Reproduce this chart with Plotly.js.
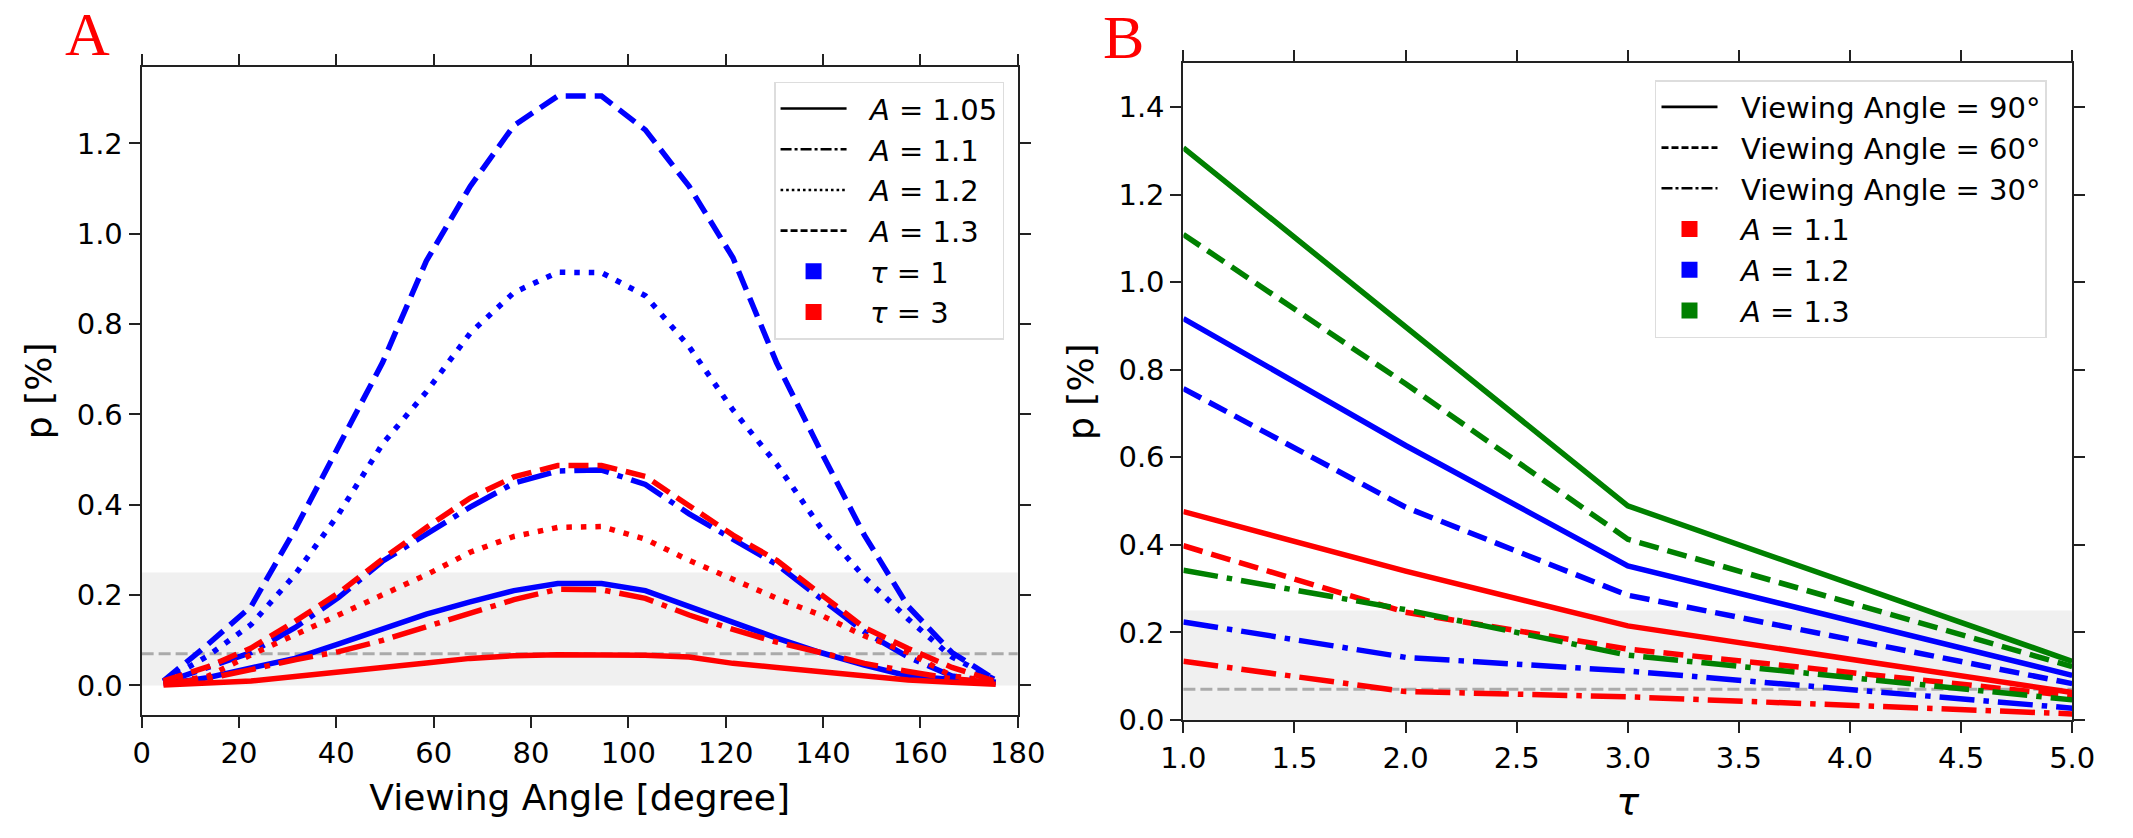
<!DOCTYPE html>
<html>
<head>
<meta charset="utf-8">
<script src="https://cdn.plot.ly/plotly-3.0.1.min.js"></script>
<style>
  html, body { margin: 0; padding: 0; background: #fff; }
  #fig { width: 2133px; height: 838px; }
</style>
</head>
<body>
<div id="fig"></div>
<script>
// panel A: p [%] against viewing angle
var angle = [4.5, 13.5, 22.5, 31.5, 40.5, 49.5, 58.5, 67.5, 76.5, 85.5,
             94.5, 103.5, 112.5, 121.5, 130.5, 139.5, 148.5, 157.5, 166.5, 175.5];

var tau1_a105 = [0.003, 0.017, 0.039, 0.060, 0.092, 0.125, 0.158, 0.185, 0.210, 0.226,
                 0.226, 0.210, 0.175, 0.138, 0.105, 0.073, 0.045, 0.021, 0.012, 0.006];
var tau1_a11  = [0.006, 0.040, 0.073, 0.128, 0.195, 0.275, 0.335, 0.395, 0.448, 0.475,
                 0.477, 0.445, 0.380, 0.324, 0.268, 0.193, 0.119, 0.063, 0.021, 0.007];
var tau1_a12  = [0.008, 0.065, 0.135, 0.245, 0.380, 0.535, 0.650, 0.780, 0.870, 0.915,
                 0.914, 0.863, 0.750, 0.610, 0.490, 0.350, 0.240, 0.147, 0.063, 0.012];
var tau1_a13  = [0.010, 0.090, 0.175, 0.345, 0.530, 0.715, 0.940, 1.105, 1.240, 1.305,
                 1.305, 1.230, 1.105, 0.947, 0.714, 0.520, 0.333, 0.175, 0.073, 0.012];

var tau3_a105 = [0.001, 0.004, 0.010, 0.020, 0.031, 0.040, 0.050, 0.060, 0.066, 0.068,
                 0.068, 0.067, 0.063, 0.049, 0.040, 0.031, 0.021, 0.012, 0.007, 0.003];
var tau3_a11  = [0.004, 0.015, 0.035, 0.057, 0.075, 0.100, 0.130, 0.160, 0.190, 0.213,
                 0.212, 0.193, 0.156, 0.124, 0.096, 0.073, 0.049, 0.031, 0.015, 0.006];
var tau3_a12  = [0.005, 0.020, 0.068, 0.113, 0.158, 0.200, 0.245, 0.295, 0.330, 0.350,
                 0.352, 0.324, 0.277, 0.235, 0.193, 0.156, 0.110, 0.073, 0.021, 0.009];
var tau3_a13  = [0.010, 0.041, 0.083, 0.142, 0.205, 0.280, 0.350, 0.415, 0.462, 0.487,
                 0.487, 0.463, 0.398, 0.333, 0.277, 0.203, 0.128, 0.082, 0.040, 0.009];

// panel B: p [%] against tau
var tau = [1, 2, 3, 5];
var a11_90 = [0.476, 0.340, 0.215, 0.063];
var a11_60 = [0.398, 0.246, 0.162, 0.055];
var a11_30 = [0.134, 0.065, 0.053, 0.014];
var a12_90 = [0.917, 0.627, 0.352, 0.102];
var a12_60 = [0.757, 0.486, 0.285, 0.083];
var a12_30 = [0.224, 0.143, 0.112, 0.027];
var a13_90 = [1.307, 0.898, 0.489, 0.134];
var a13_60 = [1.109, 0.768, 0.413, 0.122];
var a13_30 = [0.342, 0.252, 0.148, 0.046];

// shaded band and threshold line
var bandTop = 0.25;
var threshold = 0.07;

var legendA = ['<i>A</i> = 1.05', '<i>A</i> = 1.1', '<i>A</i> = 1.2', '<i>A</i> = 1.3', '<i>τ</i> = 1', '<i>τ</i> = 3'];
var legendB = ['Viewing Angle = 90°', 'Viewing Angle = 60°', 'Viewing Angle = 30°',
               '<i>A</i> = 1.1', '<i>A</i> = 1.2', '<i>A</i> = 1.3'];

var BLUE = '#0000ff', RED = '#ff0000', GREEN = '#008000';
var LW = 5.5;
var SOLID = 'solid';
var DASH = '20px,9px';
var DASHDOT = '35px,9px,5.5px,9px';
var DOT = '5.5px,9px';
var PAD = '\u00a0\u00a0';   // gap between legend key and its text

function line(x, y, color, dash, xa, ya) {
  return {x: x, y: y, xaxis: xa, yaxis: ya, type: 'scatter', mode: 'lines',
          line: {color: color, width: LW, dash: dash}, showlegend: false, hoverinfo: 'skip'};
}
function keyLine(name, dash, leg) {
  return {x: [null], y: [null], type: 'scatter', mode: 'lines', name: PAD + name, legend: leg,
          line: {color: '#000', width: 2.6, dash: dash}};
}
function keySquare(name, color, leg) {
  return {x: [null], y: [null], type: 'scatter', mode: 'markers', name: PAD + name, legend: leg,
          marker: {symbol: 'square', size: 16, color: color}};
}

var data = [
  line(angle, tau1_a105, BLUE, SOLID, 'x', 'y'),
  line(angle, tau1_a11, BLUE, DASHDOT, 'x', 'y'),
  line(angle, tau1_a12, BLUE, DOT, 'x', 'y'),
  line(angle, tau1_a13, BLUE, DASH, 'x', 'y'),
  line(angle, tau3_a105, RED, SOLID, 'x', 'y'),
  line(angle, tau3_a11, RED, DASHDOT, 'x', 'y'),
  line(angle, tau3_a12, RED, DOT, 'x', 'y'),
  line(angle, tau3_a13, RED, DASH, 'x', 'y'),

  line(tau, a13_90, GREEN, SOLID, 'x2', 'y2'),
  line(tau, a13_60, GREEN, DASH, 'x2', 'y2'),
  line(tau, a12_90, BLUE, SOLID, 'x2', 'y2'),
  line(tau, a12_60, BLUE, DASH, 'x2', 'y2'),
  line(tau, a11_90, RED, SOLID, 'x2', 'y2'),
  line(tau, a11_60, RED, DASH, 'x2', 'y2'),
  line(tau, a13_30, GREEN, DASHDOT, 'x2', 'y2'),
  line(tau, a12_30, BLUE, DASHDOT, 'x2', 'y2'),
  line(tau, a11_30, RED, DASHDOT, 'x2', 'y2'),

  keyLine(legendA[0], SOLID, 'legend'),
  keyLine(legendA[1], '11px,3px,3px,3px', 'legend'),
  keyLine(legendA[2], '2.6px,3px', 'legend'),
  keyLine(legendA[3], '7px,3px', 'legend'),
  keySquare(legendA[4], BLUE, 'legend'),
  keySquare(legendA[5], RED, 'legend'),

  keyLine(legendB[0], SOLID, 'legend2'),
  keyLine(legendB[1], '7px,3px', 'legend2'),
  keyLine(legendB[2], '11px,3px,3px,3px', 'legend2'),
  keySquare(legendB[3], RED, 'legend2'),
  keySquare(legendB[4], BLUE, 'legend2'),
  keySquare(legendB[5], GREEN, 'legend2')
];

var FONT = 'DejaVu Sans, sans-serif';
function axis(extra) {
  var a = {
    showline: true, linecolor: '#222', linewidth: 2, mirror: 'ticks',
    ticks: 'outside', ticklen: 11, tickwidth: 2, tickcolor: '#222',
    showgrid: false, zeroline: false, tickformat: '.1f',
    tickfont: {family: FONT, size: 29, color: '#000'},
    fixedrange: true
  };
  for (var k in extra) a[k] = extra[k];
  return a;
}

function band(xr, yr) {
  return {type: 'rect', xref: xr + ' domain', yref: yr, x0: 0, x1: 1, y0: 0, y1: bandTop,
          fillcolor: '#f0f0f0', line: {width: 0}, layer: 'below'};
}
function thresh(xr, yr) {
  return {type: 'line', xref: xr + ' domain', yref: yr, x0: 0, x1: 1, y0: threshold, y1: threshold,
          line: {color: '#aaaaaa', width: 3, dash: '12px,5px'}, layer: 'below'};
}

var layout = {
  width: 2133, height: 838,
  margin: {l: 0, r: 0, t: 0, b: 0},
  paper_bgcolor: '#fff', plot_bgcolor: '#fff',
  font: {family: FONT, color: '#000'},
  xaxis: axis({domain: [0.0664, 0.4771], range: [0, 180], dtick: 20, tickformat: 'd',
               title: {text: 'Viewing Angle [degree]', font: {size: 36}, standoff: 16}}),
  yaxis: axis({domain: [0.1468, 0.9204], range: [-0.0653, 1.37], dtick: 0.2,
               title: {text: 'p [%]', font: {size: 36}, standoff: 14}}),
  xaxis2: axis({domain: [0.5548, 0.9715], range: [1, 5], dtick: 0.5, anchor: 'y2',
                title: {text: '<i>τ</i>', font: {size: 38}, standoff: 14}}),
  yaxis2: axis({domain: [0.1408, 0.9245], range: [0, 1.5], dtick: 0.2, anchor: 'x2',
                title: {text: 'p [%]', font: {size: 36}, standoff: 14}}),
  shapes: [band('x', 'y'), thresh('x', 'y'), band('x2', 'y2'), thresh('x2', 'y2')],
  legend: {x: 0.3629, y: 0.9025, xanchor: 'left', yanchor: 'top',
           bgcolor: 'rgba(255,255,255,0.8)', bordercolor: '#dddddd', borderwidth: 1.5,
           font: {family: FONT, size: 29}, itemwidth: 66},
  legend2: {x: 0.7759, y: 0.9045, xanchor: 'left', yanchor: 'top',
            bgcolor: 'rgba(255,255,255,0.8)', bordercolor: '#dddddd', borderwidth: 1.5,
            font: {family: FONT, size: 29}, itemwidth: 56},
  annotations: [
    {text: 'A', xref: 'paper', yref: 'paper', x: 87 / 2133, y: 1 - 34 / 838,
     xanchor: 'center', yanchor: 'middle', showarrow: false,
     font: {family: 'Liberation Serif, serif', size: 62, color: '#ff0000'}},
    {text: 'B', xref: 'paper', yref: 'paper', x: 1123 / 2133, y: 1 - 37 / 838,
     xanchor: 'center', yanchor: 'middle', showarrow: false,
     font: {family: 'Liberation Serif, serif', size: 62, color: '#ff0000'}}
  ]
};

Plotly.newPlot('fig', data, layout, {displayModeBar: false, staticPlot: true});
</script>
</body>
</html>
